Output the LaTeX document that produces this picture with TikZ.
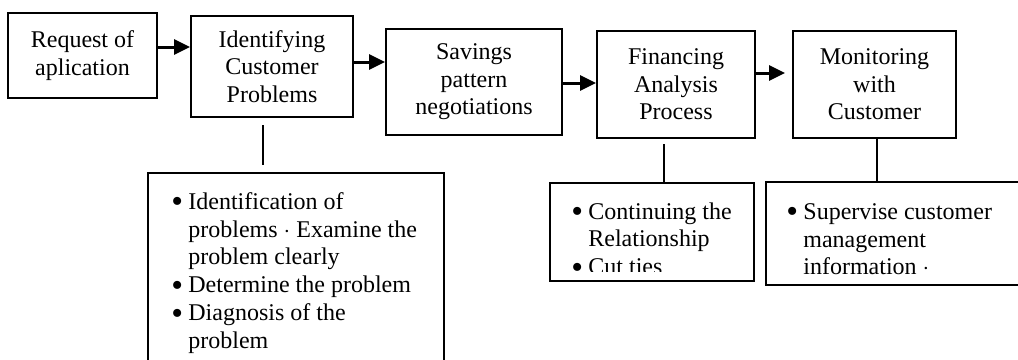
\documentclass[tikz,border=0pt]{standalone}
\usepackage{fontspec}
\setmainfont{Liberation Serif}
\usetikzlibrary{arrows.meta, positioning}

\newcommand{\bul}{\makebox[8.5pt][l]{\raisebox{-1.8pt}{\scalebox{1.4}{\textbullet}}}}
\newcommand{\ind}{\hspace*{8.5pt}}

\begin{document}
\begin{tikzpicture}[
    x=0.5pt, y=-0.5pt,
    stage/.style={rectangle, draw, line width=1pt, inner sep=0pt, align=center, font=\fontsize{12}{13.8}\selectfont},
    note/.style={rectangle, draw, line width=1pt, inner sep=0pt},
    notetext/.style={inner sep=0pt, align=left, anchor=north west, font=\fontsize{12}{13.9}\selectfont},
    arrow/.style={-{Triangle[length=8pt, width=7.5pt]}, line width=1.5pt},
    link/.style={line width=1pt}
]
\clip (0,0) rectangle (1018,359);

% Process stages
\node[stage, minimum width=74.5pt, minimum height=42.5pt] (request) at (82.5,55.5) {Request of\\aplication};
\node[stage, minimum width=81pt, minimum height=50.5pt] (identify) at (272,66.5) {Identifying\\Customer\\Problems};
\node[stage, minimum width=88pt, minimum height=53pt] (savings) at (474,82) {Savings\\pattern\\negotiations};
\node[stage, minimum width=79pt, minimum height=53.5pt] (financing) at (676,84.5) {Financing\\Analysis\\Process};
\node[stage, minimum width=81.5pt, minimum height=53.5pt] (monitor) at (874.5,84.5) {Monitoring\\with\\Customer};

% Arrows
\coordinate (monitorin) at (785,73);
\draw[arrow] (request.east |- 0,47) -- (identify.west |- 0,47);
\draw[arrow] (identify.east |- 0,62) -- (savings.west |- 0,62);
\draw[arrow] (savings.east |- 0,83) -- (financing.west |- 0,83);
\draw[arrow] (financing.east |- 0,73) -- (monitorin);

% Detail boxes
\node[note, minimum width=148pt, minimum height=99.5pt] (identnote) at (296,272.5) {};
\node[note, minimum width=102pt, minimum height=49pt] (finnote) at (652,232) {};
\node[note, minimum width=129pt, minimum height=51.5pt] (monnote) at (895,233.5) {};

\node[notetext] (identlist) at (171,192) {\bul Identification of\\\ind problems $\cdot$ Examine the\\\ind problem clearly\\\bul Determine the problem\\\bul Diagnosis of the\\\ind problem};
\begin{scope}
  \clip (finnote.north west) rectangle (finnote.east |- 0,271);
  \node[notetext] (finlist) at (571,202) {\bul Continuing the\\\ind Relationship\\\bul Cut ties};
\end{scope}
\node[notetext] (monlist) at (786,203) {\bul Supervise customer\\\ind management\\\ind information $\cdot$};

% Links
\coordinate (identtop) at (263,125);
\coordinate (identbot) at (263,165);
\coordinate (fintop) at (664,144);
\draw[link] (identtop) -- (identbot);
\draw[link] (fintop) -- (finnote.north -| fintop);
\draw[link] (monitor.south -| 877,0) -- (monnote.north -| 877,0);

\end{tikzpicture}
\end{document}
